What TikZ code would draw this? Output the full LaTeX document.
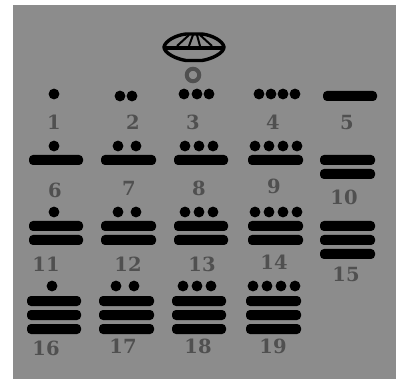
\documentclass[tikz,border=0pt]{standalone}
\usepackage{fontspec}
\setmainfont{DejaVu Serif}
\definecolor{panel}{HTML}{8C8C8C}
\definecolor{numeral}{HTML}{505050}
\tikzset{
  glyphdot/.style={circle,fill=black,inner sep=0pt,minimum size=10.8pt},
  glyphbar/.style={fill=black,rounded corners=4pt},
  numlabel/.style={text=numeral,font=\fontsize{19.5pt}{20pt}\selectfont\bfseries,inner sep=0pt,anchor=center},
  shellline/.style={draw=black,line width=3.4pt,line cap=round,line join=round}
}
\newcommand{\hbarat}[3]{\fill[glyphbar] (#1,#3-5) rectangle (#2,#3+5);}
\newcommand{\dotat}[2]{\node[glyphdot] at (#1,#2) {};}
\begin{document}
\begin{tikzpicture}[x=1pt,y=-1pt]
\useasboundingbox (0,0) rectangle (396,379);
\fill[white] (0,0) rectangle (396,379);
\fill[panel] (13,5) rectangle (396,379);
% zero shell
\draw[shellline] (164,47) .. controls (165,41) and (176,35) .. (186,34) -- (202,34) .. controls (212,35) and (223,41) .. (224,47)
  .. controls (224,53) and (212,59) .. (202,60.5) -- (186,60.5) .. controls (176,59) and (164,53) .. (164,47) -- cycle;
\draw[black,line width=3.6pt] (164,48) -- (224,48);
\draw[black,line width=2pt] (189,35) -- (177,46) (193,35) -- (189,46) (197,35) -- (200,46) (200,35) -- (212,46);
\node[circle,draw=numeral,line width=4pt,minimum size=12.5pt,inner sep=0pt] (zero) at (193,75) {};
% dots row 1
\dotat{54}{94}
\dotat{120}{96}\dotat{132}{96}
\dotat{184}{94}\dotat{197}{94}\dotat{209}{94}
\dotat{259}{94}\dotat{271}{94}\dotat{283}{94}\dotat{295}{94}
\hbarat{323}{377}{96}
% row 2
\dotat{54}{146}\hbarat{29}{83}{160}
\dotat{118}{146}\dotat{136}{146}\hbarat{101}{156}{160}
\dotat{185}{146}\dotat{199}{146}\dotat{213}{146}\hbarat{174}{228}{160}
\dotat{255}{146}\dotat{269}{146}\dotat{283}{146}\dotat{297}{146}\hbarat{248}{303}{160}
\hbarat{320}{375}{160}\hbarat{320}{375}{174}
% row 3
\dotat{54}{212}\hbarat{29}{83}{226}\hbarat{29}{83}{240}
\dotat{118}{212}\dotat{136}{212}\hbarat{101}{156}{226}\hbarat{101}{156}{240}
\dotat{185}{212}\dotat{199}{212}\dotat{213}{212}\hbarat{174}{228}{226}\hbarat{174}{228}{240}
\dotat{255}{212}\dotat{269}{212}\dotat{283}{212}\dotat{297}{212}\hbarat{248}{303}{226}\hbarat{248}{303}{240}
\hbarat{320}{375}{226}\hbarat{320}{375}{240}\hbarat{320}{375}{254}
% row 4
\dotat{52}{286}\hbarat{27}{81}{301}\hbarat{27}{81}{315}\hbarat{27}{81}{329}
\dotat{116}{286}\dotat{134}{286}\hbarat{99}{154}{301}\hbarat{99}{154}{315}\hbarat{99}{154}{329}
\dotat{183}{286}\dotat{197}{286}\dotat{211}{286}\hbarat{172}{226}{301}\hbarat{172}{226}{315}\hbarat{172}{226}{329}
\dotat{253}{286}\dotat{267}{286}\dotat{281}{286}\dotat{295}{286}\hbarat{246}{301}{301}\hbarat{246}{301}{315}\hbarat{246}{301}{329}
% labels
\node[numlabel] (n1) at (54,122) {1};
\node[numlabel] (n2) at (133,122) {2};
\node[numlabel] (n3) at (193,122) {3};
\node[numlabel] (n4) at (273,122) {4};
\node[numlabel] (n5) at (347,123) {5};
\node[numlabel] (n6) at (55,190) {6};
\node[numlabel] (n7) at (129,188) {7};
\node[numlabel] (n8) at (199,188) {8};
\node[numlabel] (n9) at (274,186) {9};
\node[numlabel] (n10) at (344,197) {10};
\node[numlabel] (n11) at (46,264) {11};
\node[numlabel] (n12) at (128,264) {12};
\node[numlabel] (n13) at (202,264) {13};
\node[numlabel] (n14) at (274,262) {14};
\node[numlabel] (n15) at (346,274) {15};
\node[numlabel] (n16) at (46,348) {16};
\node[numlabel] (n17) at (123,346) {17};
\node[numlabel] (n18) at (198,346) {18};
\node[numlabel] (n19) at (273,346) {19};
\end{tikzpicture}
\end{document}
